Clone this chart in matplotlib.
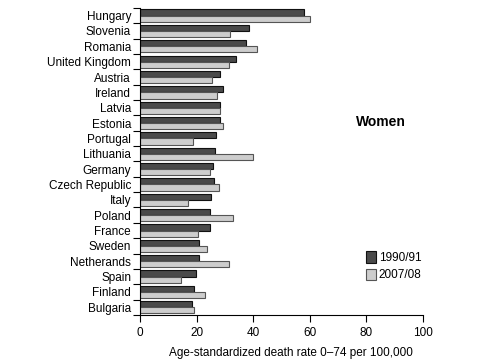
import numpy as np
import matplotlib.pyplot as plt

plt.rcParams['font.family'] = ['Liberation Sans', 'DejaVu Sans']

# Women, age-standardized death rate 0-74 per 100,000
countries = ['Hungary', 'Slovenia', 'Romania', 'United Kingdom', 'Austria',
             'Ireland', 'Latvia', 'Estonia', 'Portugal', 'Lithuania',
             'Germany', 'Czech Republic', 'Italy', 'Poland', 'France',
             'Sweden', 'Netherands', 'Spain', 'Finland', 'Bulgaria']
rate_1990 = [57.9, 38.6, 37.4, 34.0, 28.3, 29.3, 28.1, 28.1, 26.8, 26.5,
             25.7, 26.1, 25.0, 24.8, 24.8, 20.9, 20.7, 19.6, 18.9, 18.2]
rate_2007 = [59.9, 31.9, 41.4, 31.4, 25.5, 27.1, 28.1, 29.2, 18.8, 39.8,
             24.6, 27.9, 17.1, 32.9, 20.6, 23.6, 31.3, 14.3, 23.1, 18.9]

n = len(countries)
y = np.arange(n)[::-1]
h = 0.4

fig = plt.figure(figsize=(4.88, 3.62), dpi=100)
ax = fig.add_axes([0.287, 0.130, 0.58, 0.848])

ax.barh(y + h / 2, rate_1990, height=h, color='#4a4a4a', edgecolor='#111111',
        linewidth=0.8, label='1990/91')
ax.barh(y - h / 2, rate_2007, height=h, color='#cdcdcd', edgecolor='#555555',
        linewidth=0.8, label='2007/08')

ax.set_xlim(0, 100)
ax.set_ylim(-0.5, n - 0.5)
ax.set_xticks([0, 20, 40, 60, 80, 100])
ax.set_yticks(y)
ax.set_yticklabels(countries)
ax.set_yticks(np.arange(n + 1) - 0.5, minor=True)
ax.tick_params(axis='y', which='major', length=0, pad=6.5, labelsize=8.5)
ax.tick_params(axis='y', which='minor', length=5, width=0.8)
ax.tick_params(axis='x', length=5, width=0.8, labelsize=8.5)
for s in ['top', 'right']:
    ax.spines[s].set_visible(False)

ax.set_xlabel('Age-standardized death rate 0\u201374 per 100,000', fontsize=8.5,
              labelpad=6, x=0.532)
ax.text(0.85, 0.63, 'Women', transform=ax.transAxes, ha='center',
        va='center', fontsize=10, fontweight='bold')
ax.legend(loc='lower right', bbox_to_anchor=(1.015, 0.09), frameon=False,
          fontsize=8.5, handlelength=0.9, handleheight=1.1, borderpad=0,
          handletextpad=0.2, labelspacing=0.4)

fig.savefig('out.png', dpi=100)
